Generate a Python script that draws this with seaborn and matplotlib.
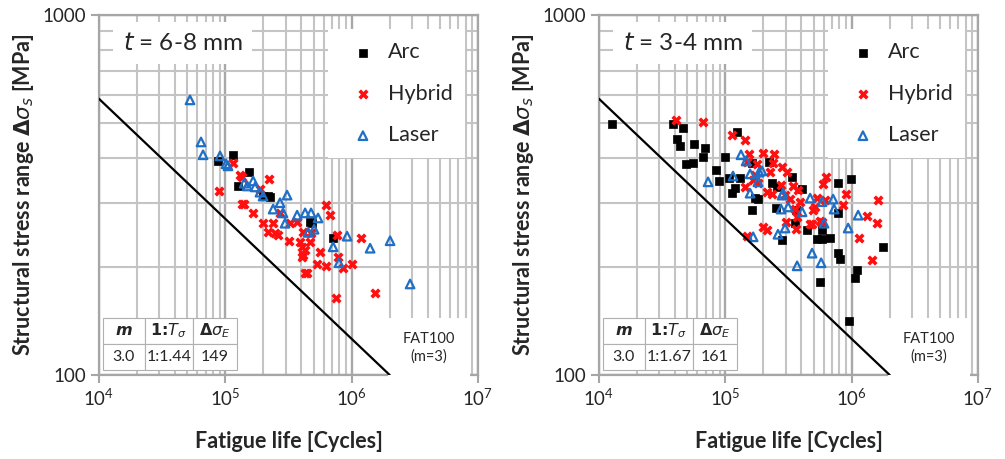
import numpy as np
import pandas as pd
import matplotlib
matplotlib.use("Agg")
import matplotlib.pyplot as plt
from matplotlib.ticker import NullFormatter, LogLocator, FixedLocator
import seaborn as sns

# ---- data (cycles, MPa) ----
# left panel, t = 6-8 mm
l_arc_N = [115000, 87500, 154000, 126000, 199000, 218000, 226000, 469000, 486000, 713000]
l_arc_S = [409, 393, 366, 335, 314, 314, 312, 266, 264, 240]

l_hyb_N = [115000, 131000, 136000, 222000, 89100, 188000, 136000, 141000, 166000, 199000,
           239000, 218000, 247000, 261000, 319000, 271000, 325000, 370000, 412000, 477000,
           390000, 469000, 405000, 428000, 562000, 412000, 405000, 532000, 627000, 444000,
           428000, 627000, 675000, 766000, 780000, 855000, 1007000, 1186000, 752000, 1530000]
l_hyb_S = [388, 359, 355, 350, 325, 329, 299, 299, 282, 264,
           264, 249, 248, 245, 236, 282, 264, 266, 249, 248,
           234, 234, 227, 223, 220, 215, 213, 203, 201, 192,
           192, 297, 278, 245, 213, 198, 203, 240, 164, 169]

l_las_N = [52500, 64200, 66600, 90800, 101300, 105000, 141000, 149000, 166000, 172000,
           188000, 199000, 271000, 308000, 286000, 239000, 297000, 370000, 428000, 477000,
           542000, 452000, 504000, 920000, 713000, 794000, 1399000, 2014000, 2900000]
l_las_S = [581, 444, 409, 406, 386, 381, 341, 335, 346, 333,
           322, 314, 301, 316, 282, 289, 264, 278, 282, 282,
           273, 249, 254, 243, 227, 205, 225, 236, 179]

# right panel, t = 3-4 mm
r_arc_N = [12700, 38500, 46200, 41500, 43800, 56500, 69100, 66600, 55500, 48800,
           99500, 84400, 89100, 107000, 124000, 119000, 113000, 131000, 163000, 222000,
           337000, 405000, 780000, 989000, 172000, 181000, 163000, 252000, 363000, 780000,
           356000, 444000, 583000, 532000, 583000, 675000, 281000, 234000, 257000, 1774000,
           780000, 809000, 1104000, 1064000, 562000, 955000]
r_arc_S = [498, 498, 485, 453, 433, 438, 427, 403, 388, 386,
           403, 371, 346, 352, 473, 331, 320, 352, 388, 391,
           355, 329, 341, 350, 310, 308, 287, 291, 287, 282,
           264, 253, 253, 239, 239, 240, 237, 341, 333, 227,
           218, 210, 196, 186, 181, 141]

r_hyb_N = [40700, 66600, 113000, 143000, 154000, 199000, 243000, 149000, 178000, 226000,
           281000, 308000, 239000, 143000, 166000, 181000, 214000, 234000, 276000, 297000,
           344000, 377000, 325000, 390000, 356000, 532000, 627000, 594000, 904000, 1620000,
           615000, 855000, 513000, 495000, 1326000, 1590000, 1146000, 486000, 583000, 303000,
           363000, 199000, 214000, 149000, 1452000, 370000, 469000, 562000, 172000]
r_hyb_S = [510, 504, 464, 450, 411, 414, 411, 391, 386, 366,
           378, 366, 388, 333, 348, 341, 322, 318, 337, 316,
           335, 327, 308, 303, 289, 310, 355, 339, 318, 306,
           306, 297, 293, 287, 277, 264, 240, 263, 266, 266,
           254, 258, 253, 243, 209, 275, 263, 268, 359]

r_las_N = [73000, 115000, 133000, 146000, 157000, 185000, 195000, 181000, 157000, 281000,
           286000, 469000, 583000, 713000, 726000, 1125000, 938000, 276000, 314000, 405000,
           604000, 297000, 261000, 166000, 486000, 370000, 573000]
r_las_S = [344, 357, 409, 393, 362, 366, 369, 344, 320, 316,
           320, 310, 303, 308, 289, 278, 256, 289, 293, 284,
           264, 256, 246, 242, 218, 201, 205]

# FAT100 design line (m = 3) end points
fat_N = [1e4, 2e6]
fat_S = [585, 100]

panels = [
    dict(title="6-8 mm", arc=(l_arc_N, l_arc_S), hyb=(l_hyb_N, l_hyb_S), las=(l_las_N, l_las_S),
         table=["3.0", "1:1.44", "149"]),
    dict(title="3-4 mm", arc=(r_arc_N, r_arc_S), hyb=(r_hyb_N, r_hyb_S), las=(r_las_N, r_las_S),
         table=["3.0", "1:1.67", "161"]),
]

sns.set_theme(style="white")
plt.rcParams['font.family'] = ['Lato', 'DejaVu Sans']
plt.rcParams['mathtext.fontset'] = 'dejavusans'

fig = plt.figure(figsize=(10.05, 4.59), dpi=100)
ax_lefts = [99 / 1005, 599 / 1005]
grid_c = '#c4c4c4'
spine_c = '#a6a6a6'

for p, left in zip(panels, ax_lefts):
    ax = fig.add_axes([left, 84 / 459, 379 / 1005, 360 / 459])
    ax.set_xscale('log')
    ax.set_yscale('log')
    ax.set_xlim(1e4, 1e7)
    ax.set_ylim(100, 1000)
    ax.set_axisbelow(True)

    # gridlines
    ax.xaxis.set_minor_locator(LogLocator(base=10, subs=np.arange(2, 10)))
    ax.yaxis.set_minor_locator(FixedLocator([200, 300, 400, 500, 600, 700, 800, 900]))
    ax.yaxis.set_major_locator(FixedLocator([100, 1000]))
    ax.xaxis.set_minor_formatter(NullFormatter())
    ax.yaxis.set_minor_formatter(NullFormatter())
    ax.grid(which='minor', color=grid_c, lw=1.5)
    ax.grid(which='major', color='#a8a8a8', lw=1.7)
    ax.tick_params(which='minor', length=0)
    ax.tick_params(which='major', length=6, width=1.5, color=spine_c, direction='out',
                   labelsize=13.5, pad=3)
    ax.tick_params(axis='both', which='major', bottom=True, left=True)
    for s in ax.spines.values():
        s.set_color(spine_c)
        s.set_linewidth(1.6)
    ax.set_yticklabels(['100', '1000'])

    # design line (drawn above the white text boxes)
    sns.lineplot(x=fat_N, y=fat_S, ax=ax, color='black', lw=1.6, zorder=6)

    # test data
    sns.scatterplot(x=p['arc'][0], y=p['arc'][1], ax=ax, marker='s', color='black',
                    s=28, edgecolor='black', linewidth=0.5, label='Arc', zorder=4)
    sns.scatterplot(x=p['hyb'][0], y=p['hyb'][1], ax=ax, marker='x', color='#ff1010',
                    s=30, linewidth=2.6, label='Hybrid', zorder=4)
    sns.scatterplot(x=p['las'][0], y=p['las'][1], ax=ax, marker='^', facecolor='none',
                    edgecolor='#1f6fc6', s=38, linewidth=1.6, label='Laser', zorder=4)

    leg = ax.legend(loc='upper right', bbox_to_anchor=(0.995, 0.99), frameon=True,
                    fancybox=False, framealpha=1, edgecolor='none', fontsize=15.5,
                    labelspacing=1.0, handletextpad=0.15, borderpad=0.6, markerscale=1.0)
    leg.set_zorder(5)

    ax.text(0.22, 0.922, r'$t$ = ' + p['title'], transform=ax.transAxes, ha='center',
            va='center', fontsize=17.5, zorder=5,
            bbox=dict(facecolor='white', edgecolor='none', pad=7))

    ax.text(0.87, 0.075, 'FAT100\n(m=3)', transform=ax.transAxes, ha='center', va='center',
            fontsize=10.5, linespacing=1.3, zorder=5,
            bbox=dict(facecolor='white', edgecolor='none', boxstyle='square,pad=1.0'))

    tb = ax.table(cellText=[[r'$\boldsymbol{m}$', r'$\boldsymbol{1\!:\!T_\sigma}$',
                             r'$\boldsymbol{\Delta\sigma_E}$'], p['table']],
                  cellLoc='center', bbox=[0.011, 0.014, 0.353, 0.144],
                  colWidths=[0.31, 0.36, 0.33])
    tb.auto_set_font_size(False)
    tb.set_fontsize(11.5)
    tb.set_zorder(5)
    for cell in tb.get_celld().values():
        cell.set_edgecolor('#b0b0b0')
        cell.set_linewidth(0.8)

    ax.set_xlabel('Fatigue life [Cycles]', fontsize=15.5, fontweight='bold', labelpad=16)
    ax.set_ylabel(r'Structural stress range $\boldsymbol{\Delta\sigma_s}$ [MPa]',
                  fontsize=15.5, fontweight='bold', labelpad=5)

fig.savefig('out.png', dpi=100)
